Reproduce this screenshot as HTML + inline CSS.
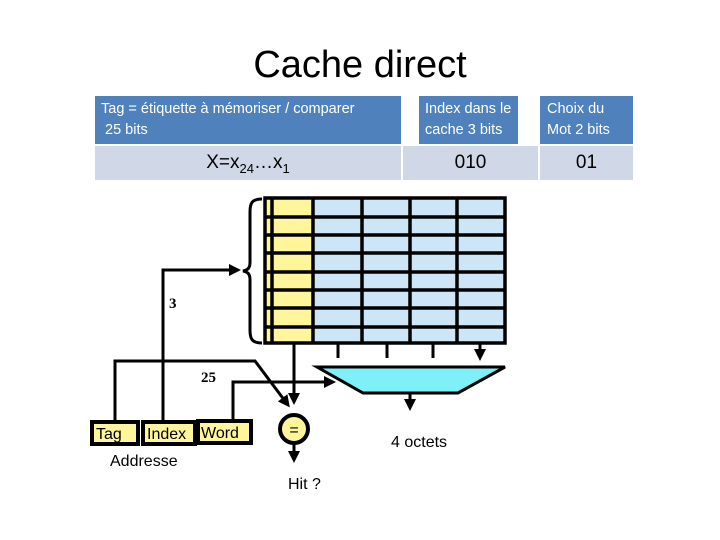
<!DOCTYPE html>
<html><head><meta charset="utf-8"><style>
body{margin:0;width:720px;height:540px;background:#fff;overflow:hidden;position:relative;font-family:"Liberation Sans",sans-serif}
.t{position:absolute;white-space:nowrap}
.h{position:absolute;background:#4f81bd;color:#fff;font-size:14.5px;line-height:21px;padding:3px 6px;box-sizing:border-box}
.r{position:absolute;background:#d0d8e8;color:#000;font-size:19px;text-align:center;line-height:34px}
</style></head><body>
<div class="t" style="left:0;width:720px;top:44px;text-align:center;font-size:38px">Cache direct</div>
<div class="h" style="left:95px;top:96px;width:306px;height:48px">Tag = étiquette à mémoriser / comparer<br>&nbsp;25 bits</div>
<div class="h" style="left:419px;top:96px;width:99px;height:48px">Index dans le cache 3 bits</div>
<div class="h" style="left:540px;top:96px;width:93px;height:48px;padding-left:7px">Choix du Mot 2 bits</div>
<div class="r" style="left:95px;top:146px;width:306px;height:34px">X=x<sub style="font-size:13px">24</sub>…x<sub style="font-size:13px">1</sub></div>
<div class="r" style="left:403px;top:146px;width:135px;height:34px">010</div>
<div class="r" style="left:540px;top:146px;width:93px;height:34px">01</div>
<svg width="720" height="540" style="position:absolute;left:0;top:0" font-family="Liberation Sans, sans-serif">
<defs><marker id="a" markerWidth="4" markerHeight="4" refX="3" refY="2" orient="auto"><path d="M0,0L4,2L0,4z" fill="#000"/></marker></defs>
<rect x="265" y="198" width="240" height="145" fill="#cce6f8"/>
<rect x="265" y="198" width="48" height="145" fill="#fff59a"/>
<g stroke="#000" stroke-width="3.5" fill="none">
<rect x="265" y="198" width="240" height="145"/>
<path d="M272,198V343M313,198V343M362,198V343M410,198V343M457,198V343"/>
<path d="M265,217H505M265,235H505M265,253H505M265,272H505M265,290H505M265,308H505M265,327H505"/>
<path d="M262,199C252,199 250,203 250,212V262C250,268 248,270 243,271C248,272 250,274 250,280V330C250,339 252,343 262,343" stroke-width="3"/>
</g>
<g stroke="#000" stroke-width="3" fill="none">
<path d="M163,420V270H238" marker-end="url(#a)"/>
<path d="M115,421V361H255L288,405" marker-end="url(#a)"/>
<path d="M294,343V402" marker-end="url(#a)"/>
<path d="M294,445V460" marker-end="url(#a)"/>
<path d="M233,420V382H333" marker-end="url(#a)"/>
<path d="M338,343V358M387,343V358M433,343V358M480,343V358" marker-end="url(#a)"/>
<path d="M410,393V408" marker-end="url(#a)"/>
</g>
<polygon points="317,367 505,367 458,393 363,393" fill="#7ff0f8" stroke="#000" stroke-width="3"/>
<circle cx="294" cy="429" r="14" fill="#fff59a" stroke="#000" stroke-width="4"/>
<text x="294" y="435" font-size="16" text-anchor="middle">=</text>
<g fill="#fff59a" stroke="#000" stroke-width="4">
<rect x="92" y="422" width="46" height="22"/><rect x="143" y="422" width="52" height="22"/><rect x="198" y="421" width="53" height="22"/>
</g>
<g font-size="16">
<text x="96" y="439">Tag</text><text x="147" y="439">Index</text><text x="201" y="438">Word</text>
<text x="110" y="466">Addresse</text>
<text x="288" y="489">Hit ?</text>
<text x="391" y="447">4 octets</text>
</g>
<g font-family="Liberation Serif, serif" font-weight="bold" font-size="15">
<text x="169" y="308">3</text><text x="201" y="382">25</text>
</g>
</svg>
</body></html>
